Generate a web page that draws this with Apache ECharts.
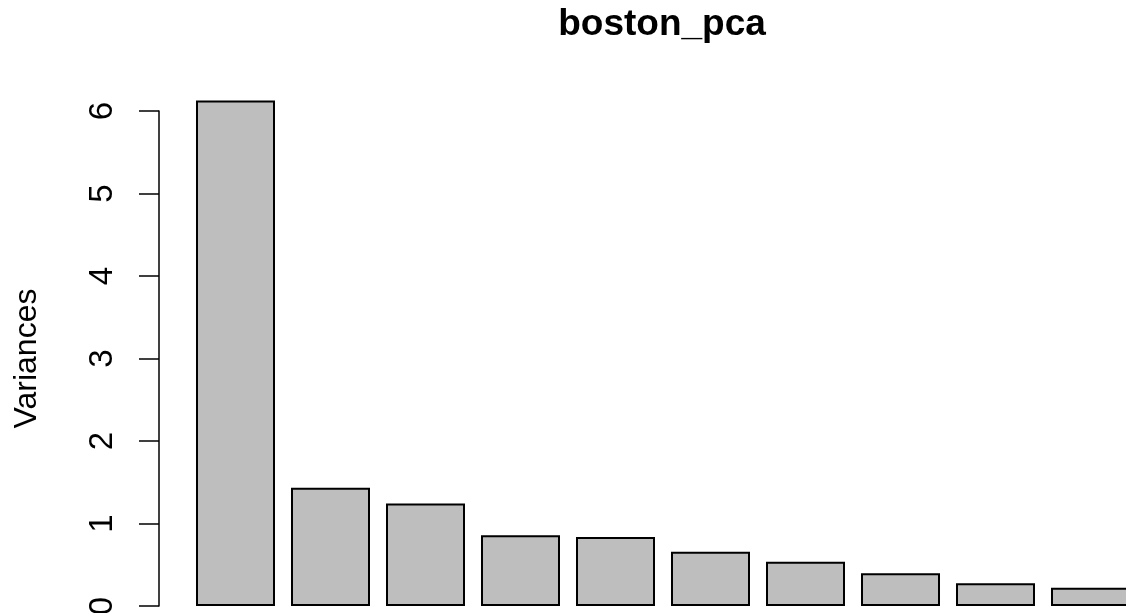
<!DOCTYPE html>
<html>
<head>
<meta charset="utf-8">
<script src="https://cdn.jsdelivr.net/npm/echarts@6/dist/echarts.min.js"></script>
<style>
html,body{margin:0;padding:0;background:#fff;}
#chart{width:1126px;height:613px;}
</style>
</head>
<body>
<div id="chart"></div>
<script>
const titleText = "boston_pca";
const yAxisName = "Variances";
const components = ["PC1","PC2","PC3","PC4","PC5","PC6","PC7","PC8","PC9","PC10"];
const variances = [6.127, 1.433, 1.243, 0.858, 0.835, 0.657, 0.535, 0.396, 0.277, 0.220];
const yTicks = [0, 1, 2, 3, 4, 5, 6];

const font = "'Liberation Sans', Arial, Helvetica, sans-serif";
const chart = echarts.init(document.getElementById('chart'), null, {renderer: 'canvas'});
chart.setOption({
  animation: false,
  backgroundColor: '#ffffff',
  title: {
    text: titleText,
    left: 657,
    top: 1,
    textAlign: 'center',
    textStyle: {fontFamily: font, fontWeight: 'bold', fontSize: 37, color: '#000'}
  },
  grid: {left: 188, width: 950, top: 111, bottom: 7, containLabel: false, outerBoundsMode: 'none'},
  xAxis: {
    type: 'category',
    data: components,
    show: false,
    boundaryGap: true
  },
  yAxis: {
    type: 'value',
    min: yTicks[0],
    max: yTicks[yTicks.length - 1],
    interval: 1,
    offset: 29,
    name: yAxisName,
    nameLocation: 'middle',
    nameRotate: 90,
    nameGap: 116,
    nameTextStyle: {fontFamily: font, fontSize: 32, color: '#000'},
    axisLine: {show: true, lineStyle: {color: '#000', width: 1.5}},
    axisTick: {show: true, length: 20, lineStyle: {color: '#000', width: 1.5}},
    axisLabel: {
      rotate: 90,
      margin: 40,
      fontFamily: font,
      fontSize: 33,
      color: '#000'
    },
    splitLine: {show: false}
  },
  series: [{
    type: 'bar',
    data: variances,
    barWidth: 79,
    clip: false,
    itemStyle: {color: '#BEBEBE', borderColor: '#000', borderWidth: 2}
  }]
});
</script>
</body>
</html>
